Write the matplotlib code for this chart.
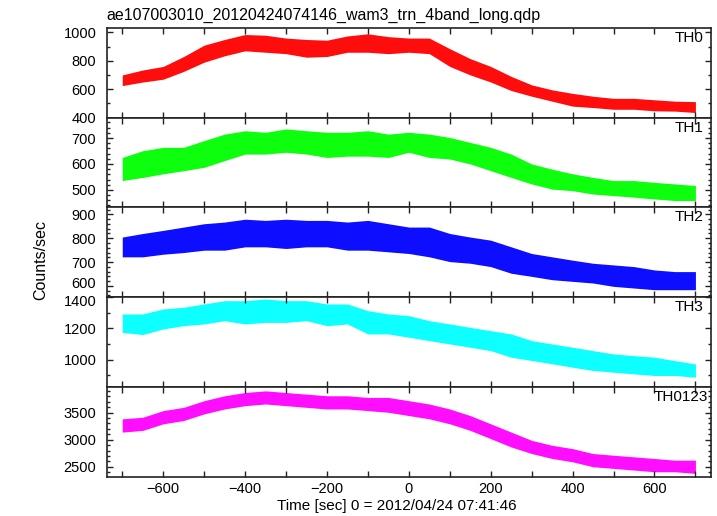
import numpy as np
import matplotlib
matplotlib.use("Agg")
import matplotlib.pyplot as plt
from matplotlib.ticker import MultipleLocator
from matplotlib.transforms import ScaledTranslation

# time grid (sec) and band limits, every 50 s
time = [-700, -650, -600, -550, -500, -450, -400, -350, -300, -250, -200, -150, -100, -50,
        0, 50, 100, 150, 200, 250, 300, 350, 400, 450, 500, 550, 600, 650, 700]

th0_lo = [625, 650, 670, 725, 790, 835, 870, 860, 850, 825, 830, 860, 860, 850,
          860, 850, 760, 700, 650, 590, 550, 515, 480, 470, 458, 458, 447, 445, 435]
th0_hi = [700, 735, 760, 830, 910, 950, 985, 980, 960, 950, 945, 975, 990, 970,
          960, 960, 885, 815, 760, 690, 630, 595, 570, 550, 535, 535, 525, 515, 512]

th1_lo = [536, 548, 562, 574, 587, 613, 638, 638, 645, 638, 625, 630, 630, 625,
          645, 625, 619, 600, 574, 548, 523, 503, 497, 484, 478, 472, 465, 459, 459]
th1_hi = [625, 651, 664, 664, 690, 715, 728, 722, 735, 728, 722, 722, 728, 715,
          722, 715, 702, 683, 664, 638, 600, 580, 562, 548, 536, 536, 529, 523, 517]

th2_lo = [722, 722, 733, 740, 750, 750, 764, 764, 757, 764, 764, 750, 750, 743,
          736, 722, 702, 695, 681, 653, 640, 626, 619, 612, 598, 591, 584, 584, 584]
th2_hi = [805, 820, 833, 847, 861, 868, 880, 875, 880, 875, 875, 868, 875, 861,
          847, 847, 820, 805, 792, 764, 736, 722, 708, 695, 688, 681, 667, 660, 660]

th3_lo = [1174, 1160, 1196, 1217, 1228, 1249, 1228, 1238, 1238, 1249, 1217, 1228, 1164, 1164,
          1143, 1121, 1100, 1079, 1057, 1015, 994, 973, 951, 930, 919, 908, 898, 898, 887]
th3_hi = [1292, 1292, 1324, 1335, 1356, 1377, 1377, 1388, 1377, 1377, 1356, 1356, 1313, 1292,
          1281, 1249, 1228, 1206, 1185, 1164, 1121, 1100, 1079, 1057, 1036, 1025, 1015, 993, 972]

th0123_lo = [3140, 3171, 3293, 3354, 3476, 3567, 3628, 3659, 3628, 3597, 3567, 3567, 3537, 3506,
             3445, 3385, 3293, 3171, 3019, 2865, 2744, 2653, 2591, 2500, 2470, 2439, 2408, 2408, 2378]
th0123_hi = [3385, 3414, 3537, 3597, 3720, 3811, 3871, 3902, 3871, 3841, 3811, 3811, 3780, 3780,
             3720, 3659, 3567, 3445, 3293, 3140, 2988, 2896, 2835, 2744, 2713, 2683, 2653, 2622, 2622]

bands = ["TH0", "TH1", "TH2", "TH3", "TH0123"]
lows = [th0_lo, th1_lo, th2_lo, th3_lo, th0123_lo]
highs = [th0_hi, th1_hi, th2_hi, th3_hi, th0123_hi]
colors = ["#ff0000", "#00ff00", "#0000ff", "#00ffff", "#ff00ff"]
ylims = [(400, 1033), (433, 779), (553, 930), (825, 1400), (2317, 3975)]
ymajor = [200, 100, 100, 200, 500]
yminor = [100, 20, 20, 100, 100]

plt.rcParams["font.family"] = ["Liberation Sans", "DejaVu Sans"]
plt.rcParams["font.size"] = 11

fig = plt.figure(figsize=(7.17, 5.16), dpi=100)
gs = fig.add_gridspec(5, 1, left=0.1488, right=0.9916, top=0.9463, bottom=0.0762, hspace=0)

axes = []
for i in range(5):
    ax = fig.add_subplot(gs[i])
    ax.fill_between(time, lows[i], highs[i], color=colors[i], lw=0, alpha=0.95)
    ax.set_xlim(-738, 738)
    ax.set_ylim(*ylims[i])
    ax.xaxis.set_major_locator(MultipleLocator(200))
    ax.xaxis.set_minor_locator(MultipleLocator(100))
    ax.yaxis.set_major_locator(MultipleLocator(ymajor[i]))
    ax.yaxis.set_minor_locator(MultipleLocator(yminor[i]))
    ax.tick_params(which="both", direction="in", top=True, right=True,
                   color="#222222", width=1.0, labelsize=10.5)
    ax.tick_params(which="major", length=4.5)
    ax.tick_params(which="minor", length=2.5)
    ax.tick_params(axis="x", which="minor", length=4.5)
    ax.tick_params(axis="y", pad=7.5)
    ax.tick_params(axis="x", pad=3.5)
    for s in ax.spines.values():
        s.set_color("#222222")
        s.set_linewidth(1.2)
    if i < 4:
        ax.tick_params(labelbottom=False)
    xpos = 0.995 if bands[i] == "TH0123" else 0.987
    ax.text(xpos, 0.965, bands[i], transform=ax.transAxes, ha="right", va="top", fontsize=11)
    axes.append(ax)

axes[-1].set_xlabel("Time [sec] 0 = 2012/04/24 07:41:46", fontsize=11)
axes[-1].xaxis.set_label_coords(0.48, -0.245)
axes[-1].xaxis.label.set_va("top")
fig.text(0.057, 0.496, "Counts/sec", rotation=90, ha="center", va="center", fontsize=11.5)
fig.text(0.149, 0.9612, "ae107003010_20120424074146_wam3_trn_4band_long.qdp",
         ha="left", va="baseline", fontsize=11.5)

# 600 (TH2) and 1400 (TH3) sit right on the shared border; nudge them apart a bit
fig.canvas.draw()
for tick in axes[2].yaxis.get_major_ticks():
    if abs(tick.get_loc() - 600) < 1:
        tick.label1.set_transform(tick.label1.get_transform() + ScaledTranslation(0, 2.5 / 72, fig.dpi_scale_trans))
for tick in axes[3].yaxis.get_major_ticks():
    if abs(tick.get_loc() - 1400) < 1:
        tick.label1.set_transform(tick.label1.get_transform() + ScaledTranslation(0, -2.5 / 72, fig.dpi_scale_trans))

fig.savefig("out.png", dpi=100)
